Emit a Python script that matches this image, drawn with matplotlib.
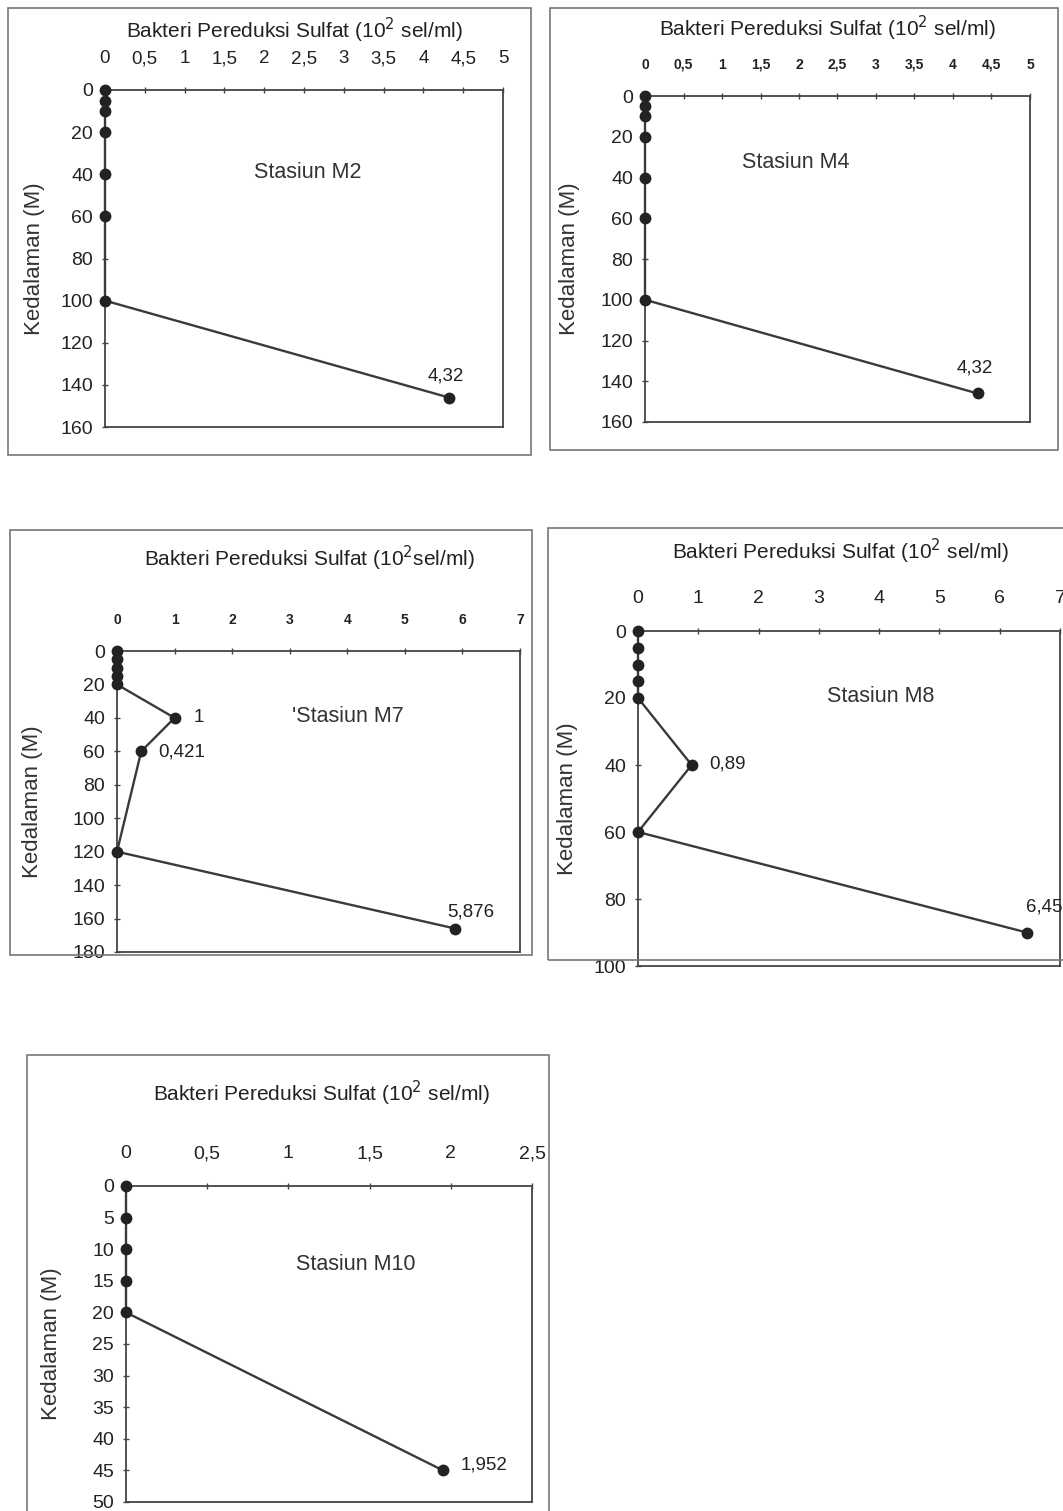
#!/usr/bin/env python3
"""Profil kedalaman bakteri pereduksi sulfat untuk lima stasiun."""

import matplotlib
matplotlib.use("Agg")
import matplotlib.pyplot as plt
from matplotlib.patches import Rectangle

plt.rcParams['font.family'] = ['Liberation Sans', 'DejaVu Sans']

# Data per stasiun (kedalaman dalam M, nilai dalam 10^2 sel/ml)
m2_depth = [0, 5, 10, 20, 40, 60, 100, 146]
m2_value = [0, 0, 0, 0, 0, 0, 0, 4.32]

m4_depth = [0, 5, 10, 20, 40, 60, 100, 146]
m4_value = [0, 0, 0, 0, 0, 0, 0, 4.32]

m7_depth = [0, 5, 10, 15, 20, 40, 60, 120, 166]
m7_value = [0, 0, 0, 0, 0, 1, 0.421, 0, 5.876]

m8_depth = [0, 5, 10, 15, 20, 40, 60, 90]
m8_value = [0, 0, 0, 0, 0, 0.89, 0, 6.45]

m10_depth = [0, 5, 10, 15, 20, 45]
m10_value = [0, 0, 0, 0, 0, 1.952]

# Tick label
x_ticks_half5 = [0, 0.5, 1, 1.5, 2, 2.5, 3, 3.5, 4, 4.5, 5]
x_ticks_7 = [0, 1, 2, 3, 4, 5, 6, 7]
x_ticks_25 = [0, 0.5, 1, 1.5, 2, 2.5]
y_ticks_160 = [0, 20, 40, 60, 80, 100, 120, 140, 160]
y_ticks_180 = [0, 20, 40, 60, 80, 100, 120, 140, 160, 180]
y_ticks_100 = [0, 20, 40, 60, 80, 100]
y_ticks_50 = [0, 5, 10, 15, 20, 25, 30, 35, 40, 45, 50]

W, H = 1063, 1511
LINE = '#3a3a3a'

fig = plt.figure(figsize=(W / 100, H / 100), dpi=100)


def comma(v):
    return ('%g' % v).replace('.', ',')


def frame(x0, y0, x1, y1):
    """Kotak luar di sekitar grafik (koordinat piksel)."""
    fig.patches.append(Rectangle((x0 / W, 1 - y1 / H), (x1 - x0) / W, (y1 - y0) / H,
                                 transform=fig.transFigure, fill=False,
                                 edgecolor='#777777', linewidth=1.2))


def panel(box, depth, value, xticks, yticks, title_y, xpad, tick_fs, tick_w,
          station, station_xy, ylab_x, labels, title_text, title_dx=0):
    x0, y0, x1, y1 = box
    ax = fig.add_axes([x0 / W, 1 - y1 / H, (x1 - x0) / W, (y1 - y0) / H])
    ax.plot(value, depth, '-', color=LINE, linewidth=1.7, marker='o',
            markersize=7.5, markerfacecolor='#222222', markeredgecolor='#222222',
            clip_on=False, zorder=3)
    ax.set_xlim(xticks[0], xticks[-1])
    ax.set_ylim(yticks[-1], yticks[0])
    ax.xaxis.tick_top()
    ax.set_xticks(xticks)
    ax.set_xticklabels([comma(t) for t in xticks], fontsize=tick_fs,
                       fontweight=tick_w, color='#222222')
    ax.set_yticks(yticks)
    ax.set_yticklabels([str(t) for t in yticks], fontsize=14, color='#222222')
    ax.tick_params(axis='both', direction='inout', length=5, width=1,
                   color='#444444')
    ax.tick_params(axis='y', pad=6)
    ax.tick_params(axis='x', pad=xpad)
    for s in ax.spines.values():
        s.set_color('#444444')
        s.set_linewidth(1.3)
    # judul sumbu x di atas
    fig.text(((x0 + x1) / 2 + title_dx) / W, 1 - title_y / H, title_text,
             ha='center', va='center', fontsize=15, color='#222222')
    fig.text(station_xy[0] / W, 1 - station_xy[1] / H, station,
             ha='center', va='center', fontsize=15.5, color='#333333')
    fig.text(ylab_x / W, 1 - (y0 + y1) / 2 / H, 'Kedalaman (M)', rotation=90,
             ha='center', va='center', fontsize=16, color='#333333')
    for (txt, px, py, ha) in labels:
        fig.text(px / W, 1 - py / H, txt, ha=ha, va='center',
                 fontsize=13.5, color='#222222')
    return ax


# M2
frame(8, 8, 531, 455)
panel((105, 90, 503, 427), m2_depth, m2_value, x_ticks_half5, y_ticks_160,
      30, 14, 13.5, 'normal', 'Stasiun M2', (308, 173), 35,
      [('4,32', 446, 376, 'center')],
      'Bakteri Pereduksi Sulfat (10$^2$ sel/ml)', -10)

# M4
frame(550, 8, 1058, 450)
panel((645, 96, 1030, 422), m4_depth, m4_value, x_ticks_half5, y_ticks_160,
      28, 15, 10, 'bold', 'Stasiun M4', (796, 163), 570,
      [('4,32', 975, 368, 'center')],
      'Bakteri Pereduksi Sulfat (10$^2$ sel/ml)', -10)

# M7
frame(10, 530, 532, 955)
panel((117, 651, 520, 952), m7_depth, m7_value, x_ticks_7, y_ticks_180,
      558, 15, 10, 'bold', "'Stasiun M7", (348, 717), 33,
      [('1', 194, 717, 'left'), ('0,421', 158, 752, 'left'),
       ('5,876', 471, 912, 'center')],
      'Bakteri Pereduksi Sulfat (10$^2$sel/ml)', -9)

# M8
frame(548, 528, 1075, 960)
panel((638, 631, 1060, 966), m8_depth, m8_value, x_ticks_7, y_ticks_100,
      551, 14.5, 14, 'normal', 'Stasiun M8', (881, 697), 567,
      [('0,89', 709, 764, 'left'), ('6,45', 1044, 907, 'center')],
      'Bakteri Pereduksi Sulfat (10$^2$ sel/ml)', -9)

# M10
frame(27, 1055, 549, 1520)
panel((126, 1186, 532, 1502), m10_depth, m10_value, x_ticks_25, y_ticks_50,
      1093, 14.5, 14, 'normal', 'Stasiun M10', (356, 1264), 52,
      [('1,952', 461, 1465, 'left')],
      'Bakteri Pereduksi Sulfat (10$^2$ sel/ml)', -8)

fig.savefig('out.png', dpi=100, facecolor='white')
